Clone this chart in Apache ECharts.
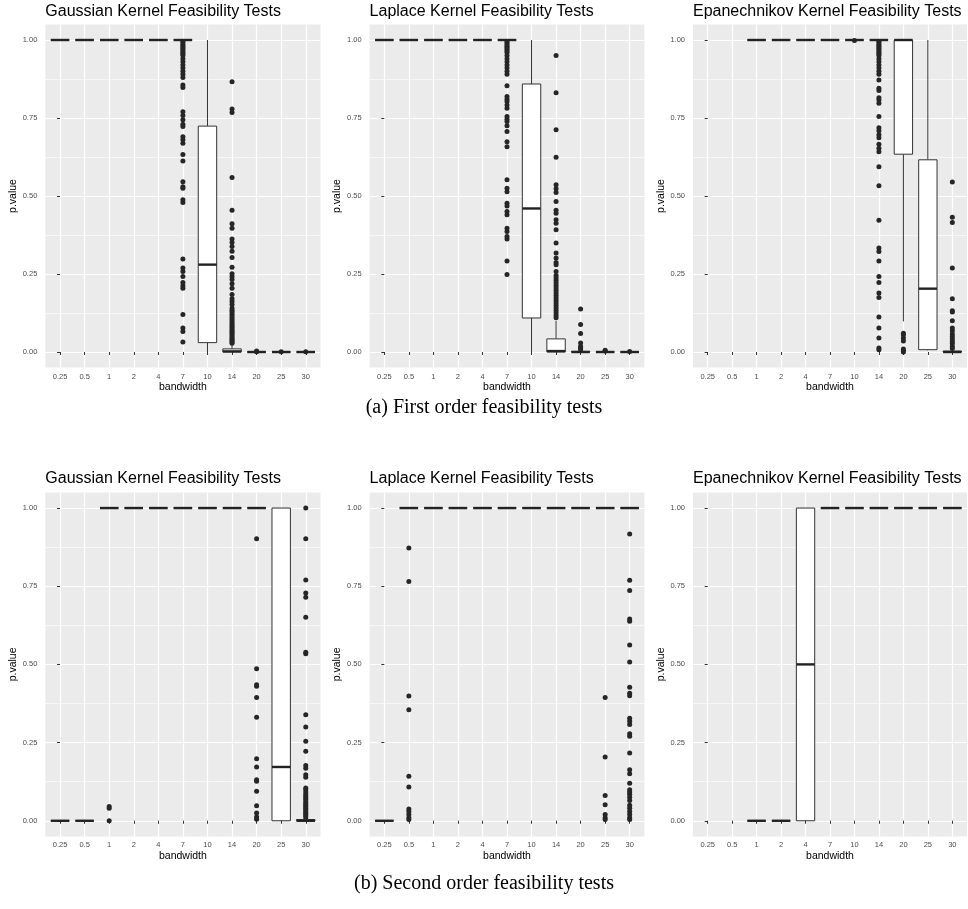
<!DOCTYPE html>
<html><head><meta charset="utf-8">
<script src="https://cdn.jsdelivr.net/npm/echarts@6/dist/echarts.min.js"></script>
<style>html,body{margin:0;padding:0;background:#fff}#chart{width:968px;height:909px}</style>
</head><body><div id="chart"></div>
<script>
// ---------- data ----------
const categories = ['0.25','0.5','1','2','4','7','10','14','20','25','30'];
const yBreaks = [0, 0.25, 0.5, 0.75, 1];
const yMinorBreaks = [0.125, 0.375, 0.625, 0.875];
const panelTitles = ['Gaussian Kernel Feasibility Tests','Laplace Kernel Feasibility Tests','Epanechnikov Kernel Feasibility Tests'];
const captions = ['(a) First order feasibility tests','(b) Second order feasibility tests'];
const xName = 'bandwidth';
const yName = 'p.value';

// boxes: [bandwidth, lower whisker, Q1, median, Q3, upper whisker]
const gaussA_box = [
  ['0.25',1,1,1,1,1],['0.5',1,1,1,1,1],['1',1,1,1,1,1],['2',1,1,1,1,1],['4',1,1,1,1,1],['7',1,1,1,1,1],
  ['10',0,0.03,0.28,0.724,1],
  ['14',0,0,0.002,0.01,0.024],
  ['20',0,0,0,0,0],['25',0,0,0,0,0],['30',0,0,0,0,0]
];
const gaussA_out = [
  ['7',[0.995,0.99,0.985,0.98,0.975,0.97,0.965,0.96,0.955,0.95,0.94,0.93,0.92,0.91,0.9,0.89,0.88,0.856,0.848,0.77,0.758,0.744,0.73,0.723,0.69,0.68,0.669,0.633,0.612,0.546,0.53,0.525,0.488,0.479,0.298,0.269,0.258,0.242,0.223,0.212,0.204,0.12,0.077,0.066,0.032]],
  ['14',[0.866,0.779,0.768,0.559,0.454,0.411,0.397,0.362,0.351,0.338,0.323,0.303,0.272,0.251,0.242,0.232,0.219,0.204,0.184,0.171,0.162,0.152,0.141,0.134,0.128,0.122,0.116,0.11,0.104,0.098,0.092,0.086,0.08,0.075,0.07,0.065,0.06,0.055,0.05,0.045,0.04,0.036,0.032,0.028]],
  ['20',[0.003,0.001]],['25',[0.001]],['30',[0.001]]
];

const lapA_box = [
  ['0.25',1,1,1,1,1],['0.5',1,1,1,1,1],['1',1,1,1,1,1],['2',1,1,1,1,1],['4',1,1,1,1,1],['7',1,1,1,1,1],
  ['10',0,0.109,0.46,0.859,1],
  ['14',0,0,0.003,0.042,0.1],
  ['20',0,0,0,0.002,0.005],
  ['25',0,0,0,0,0],['30',0,0,0,0,0]
];
const lapA_out = [
  ['7',[0.995,0.99,0.985,0.98,0.975,0.97,0.965,0.96,0.95,0.94,0.93,0.92,0.91,0.9,0.89,0.853,0.819,0.81,0.803,0.792,0.781,0.755,0.746,0.739,0.725,0.707,0.674,0.658,0.552,0.525,0.514,0.477,0.468,0.45,0.44,0.397,0.386,0.37,0.362,0.292,0.248]],
  ['14',[0.95,0.831,0.712,0.624,0.536,0.523,0.511,0.482,0.454,0.445,0.424,0.413,0.392,0.349,0.317,0.301,0.287,0.28,0.258,0.245,0.237,0.229,0.221,0.213,0.205,0.197,0.189,0.181,0.173,0.165,0.157,0.149,0.141,0.133,0.125,0.117,0.11]],
  ['20',[0.138,0.088,0.059,0.029,0.018,0.013,0.007]],
  ['25',[0.006,0.003]],['30',[0.002]]
];

const epaA_box = [
  ['1',1,1,1,1,1],['2',1,1,1,1,1],['4',1,1,1,1,1],['7',1,1,1,1,1],['10',1,1,1,1,1],['14',1,1,1,1,1],
  ['20',0.098,0.634,1,1,1],
  ['25',0.005,0.0075,0.203,0.616,1],
  ['30',0,0,0,0.003,0.005]
];
const epaA_out = [
  ['10',[0.998]],
  ['14',[0.995,0.99,0.985,0.98,0.975,0.97,0.965,0.96,0.955,0.95,0.94,0.93,0.92,0.91,0.9,0.89,0.872,0.845,0.838,0.815,0.808,0.797,0.755,0.719,0.709,0.696,0.687,0.666,0.653,0.642,0.594,0.533,0.422,0.333,0.322,0.292,0.242,0.223,0.189,0.175,0.112,0.077,0.045,0.013,0.007]],
  ['20',[0.06,0.055,0.045,0.035,0.01,0.005,0.0]],
  ['30',[0.545,0.432,0.415,0.269,0.171,0.132,0.128,0.1,0.077,0.068,0.058,0.05,0.042,0.034,0.027,0.018,0.011]]
];

const gaussB_box = [
  ['0.25',0,0,0,0,0],['0.5',0,0,0,0,0],
  ['1',1,1,1,1,1],['2',1,1,1,1,1],['4',1,1,1,1,1],['7',1,1,1,1,1],['10',1,1,1,1,1],['14',1,1,1,1,1],['20',1,1,1,1,1],
  ['25',0,0,0.172,1,1],
  ['30',0,0,0,0.004,0.008]
];
const gaussB_out = [
  ['1',[0.046,0.04,0.0]],
  ['20',[0.902,0.486,0.435,0.43,0.394,0.331,0.198,0.172,0.131,0.126,0.094,0.048,0.025,0.012,0.005]],
  ['30',[1.0,0.902,0.77,0.728,0.715,0.651,0.539,0.534,0.339,0.3,0.254,0.222,0.177,0.168,0.147,0.139,0.105,0.1,0.092,0.085,0.078,0.072,0.066,0.06,0.055,0.05,0.045,0.04,0.035,0.03,0.025,0.02,0.015,0.01]]
];

const lapB_box = [
  ['0.25',0,0,0,0,0],
  ['0.5',1,1,1,1,1],['1',1,1,1,1,1],['2',1,1,1,1,1],['4',1,1,1,1,1],['7',1,1,1,1,1],['10',1,1,1,1,1],
  ['14',1,1,1,1,1],['20',1,1,1,1,1],['25',1,1,1,1,1],['30',1,1,1,1,1]
];
const lapB_out = [
  ['0.5',[0.872,0.765,0.399,0.355,0.142,0.108,0.038,0.03,0.02,0.01,0.004]],
  ['25',[0.394,0.204,0.081,0.051,0.02,0.01,0.004]],
  ['30',[0.917,0.769,0.736,0.645,0.638,0.562,0.508,0.427,0.408,0.4,0.328,0.318,0.308,0.278,0.27,0.217,0.163,0.15,0.12,0.099,0.092,0.085,0.075,0.065,0.05,0.04,0.03,0.02,0.01,0.004]]
];

const epaB_box = [
  ['1',0,0,0,0,0],['2',0,0,0,0,0],
  ['4',0,0,0.5,1,1],
  ['7',1,1,1,1,1],['10',1,1,1,1,1],['14',1,1,1,1,1],['20',1,1,1,1,1],['25',1,1,1,1,1],['30',1,1,1,1,1]
];
const epaB_out = [];

const panelBoxes = [gaussA_box, lapA_box, epaA_box, gaussB_box, lapB_box, epaB_box];
const panelOutliers = [gaussA_out, lapA_out, epaA_out, gaussB_out, lapB_out, epaB_out];

// ---------- layout / style ----------
const colLeft = [45.3, 369.6, 693.0];
const colWidth = [275.2, 274.8, 274.0];
const rowTop = [24.4, 492.4];
const rowHeight = [343.2, 344];
const titleTop = [3.5, 470.5];
const captionY = [408, 884];
const FONT = '"Liberation Sans", Arial, Helvetica, sans-serif';
const boxColor = '#333333';

const xTickIdx = categories.map((c, i) => i);
const catIndex = c => categories.indexOf(c);

function renderBox(params, api) {
  const x = api.value(0);
  const pLo = api.coord([x, api.value(1)]);
  const pQ1 = api.coord([x, api.value(2)]);
  const pMed = api.coord([x, api.value(3)]);
  const pQ3 = api.coord([x, api.value(4)]);
  const pHi = api.coord([x, api.value(5)]);
  const half = api.size([1, 0])[0] * 0.375;
  const ls = {stroke: boxColor, lineWidth: 1};
  return {
    type: 'group',
    children: [
      {type: 'line', shape: {x1: pQ3[0], y1: pQ3[1], x2: pHi[0], y2: pHi[1]}, style: ls},
      {type: 'line', shape: {x1: pLo[0], y1: pLo[1], x2: pQ1[0], y2: pQ1[1]}, style: ls},
      {type: 'rect', shape: {x: pQ3[0] - half, y: pQ3[1], width: 2 * half, height: pQ1[1] - pQ3[1]},
       style: {fill: '#ffffff', stroke: boxColor, lineWidth: 1}},
      {type: 'line', shape: {x1: pMed[0] - half, y1: pMed[1], x2: pMed[0] + half, y2: pMed[1]},
       style: {stroke: '#222222', lineWidth: 2.4}}
    ]
  };
}

const grids = [], xAxes = [], yAxes = [], series = [], titles = [];
for (let i = 0; i < 6; i++) {
  const r = Math.floor(i / 3), c = i % 3;
  grids.push({left: colLeft[c], top: rowTop[r], width: colWidth[c], height: rowHeight[r],
    show: true, backgroundColor: '#EBEBEB', borderWidth: 0, containLabel: false, outerBoundsMode: 'none'});
  titles.push({text: panelTitles[c], left: colLeft[c], top: titleTop[r], padding: 0,
    textStyle: {fontSize: 16, fontWeight: 'normal', color: '#000', fontFamily: FONT}});
  xAxes.push({
    type: 'value', gridIndex: i, min: -0.6, max: 10.6,
    axisLine: {show: false},
    axisTick: {show: true, customValues: xTickIdx, length: 3, lineStyle: {color: boxColor, width: 1}},
    axisLabel: {customValues: xTickIdx, formatter: v => categories[Math.round(v)],
      fontSize: 7.5, color: '#4D4D4D', margin: 5, fontFamily: FONT},
    splitLine: {show: true, lineStyle: {color: '#ffffff', width: 1.2}},
    name: xName, nameLocation: 'middle', nameGap: 13,
    nameTextStyle: {fontSize: 10.5, color: '#000', fontFamily: FONT}
  });
  yAxes.push({
    type: 'value', gridIndex: i, min: -0.05, max: 1.05,
    axisLine: {show: false},
    axisTick: {show: true, customValues: yBreaks, length: 3, lineStyle: {color: boxColor, width: 1}},
    axisLabel: {customValues: yBreaks, formatter: v => v.toFixed(2),
      fontSize: 7.5, color: '#4D4D4D', margin: 8, fontFamily: FONT},
    splitLine: {show: true, lineStyle: {color: '#ffffff', width: 1.2}},
    name: yName, nameLocation: 'middle', nameGap: 24,
    nameTextStyle: {fontSize: 10.5, color: '#000', fontFamily: FONT}
  });
  yAxes.push({
    type: 'value', gridIndex: i, min: -0.05, max: 1.05,
    axisLine: {show: false},
    axisTick: {show: false, customValues: yMinorBreaks},
    axisLabel: {show: false, customValues: yMinorBreaks},
    splitLine: {show: true, lineStyle: {color: '#ffffff', width: 0.6}}
  });
  const pts = [];
  panelOutliers[i].forEach(([cat, vals]) => vals.forEach(v => pts.push([catIndex(cat), v])));
  series.push({type: 'scatter', xAxisIndex: i, yAxisIndex: 2 * i, data: pts, symbolSize: 5,
    itemStyle: {color: '#262626', opacity: 1}, silent: true, z: 2});
  series.push({type: 'custom', xAxisIndex: i, yAxisIndex: 2 * i,
    data: panelBoxes[i].map(b => [catIndex(b[0]), b[1], b[2], b[3], b[4], b[5]]),
    encode: {x: 0, y: [1, 2, 3, 4, 5]}, renderItem: renderBox, silent: true, z: 3});
}

const chart = echarts.init(document.getElementById('chart'), null, {renderer: 'canvas'});
chart.setOption({
  animation: false,
  backgroundColor: '#ffffff',
  title: titles,
  grid: grids,
  xAxis: xAxes,
  yAxis: yAxes,
  series: series,
  graphic: captions.map((t, r) => ({
    type: 'text', x: 484, y: captionY[r], z: 10,
    style: {text: t, font: '20px "Liberation Serif", "Times New Roman", serif', fill: '#000',
      align: 'center', verticalAlign: 'middle'}
  }))
});
</script></body></html>
